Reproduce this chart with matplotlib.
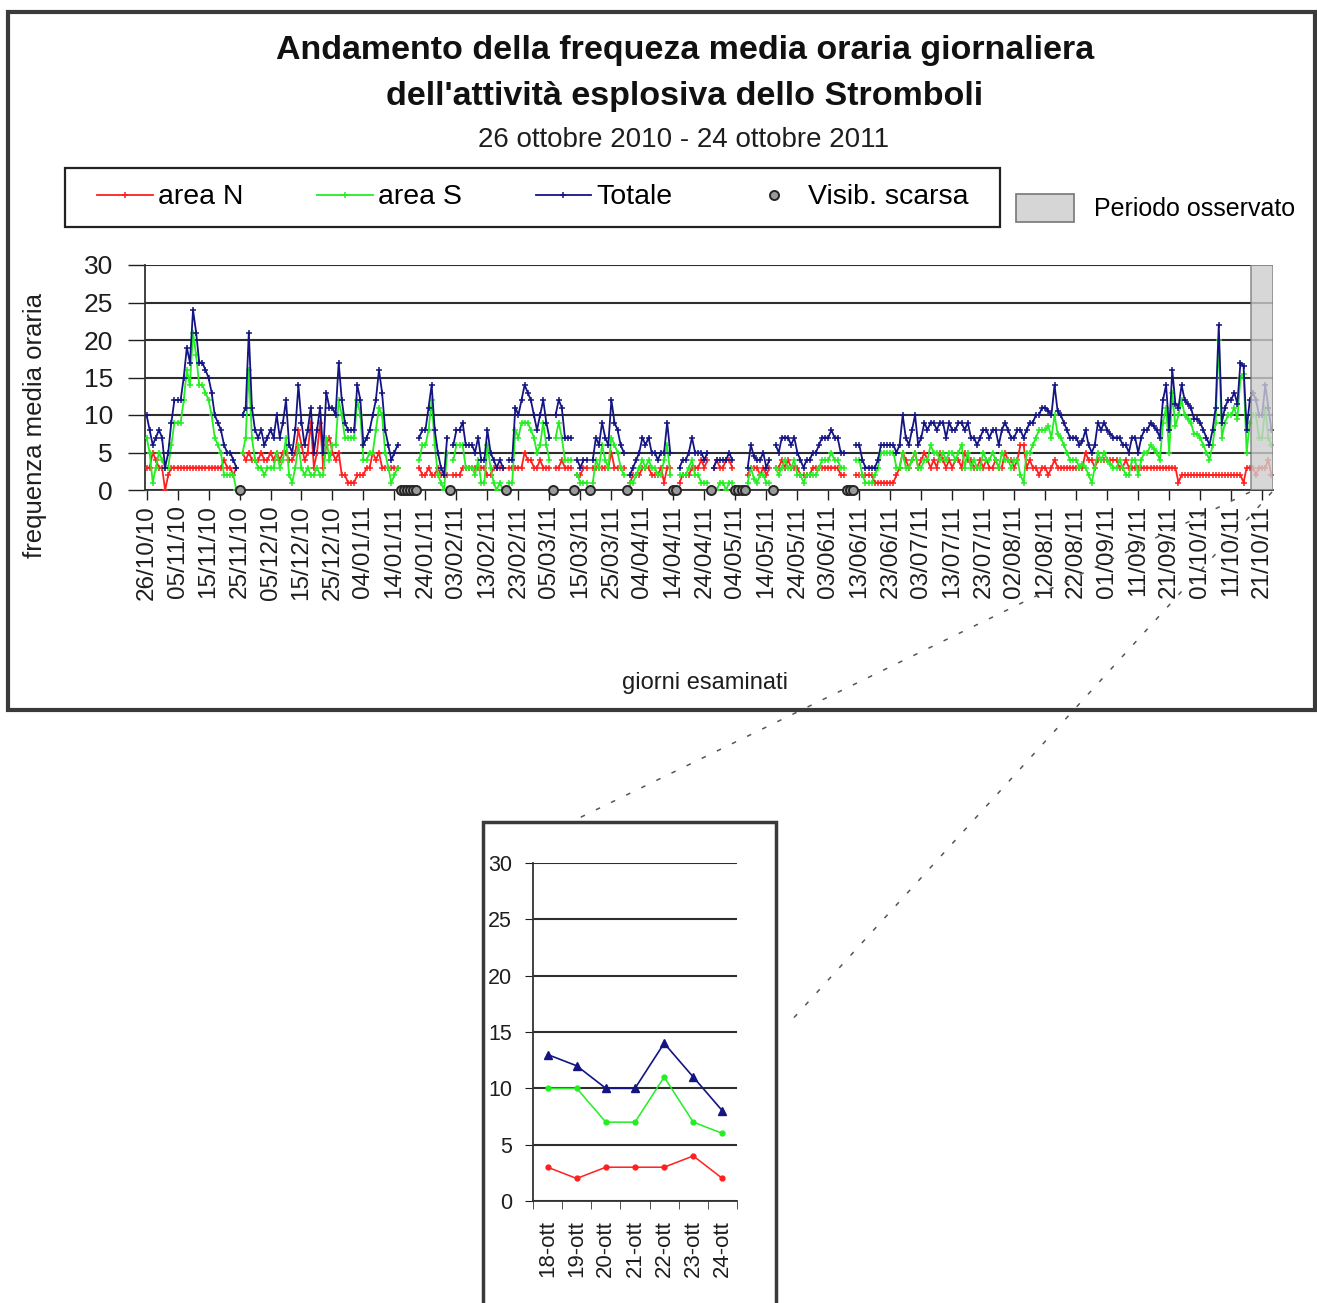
import numpy as np
import matplotlib
matplotlib.use("Agg")
import matplotlib.pyplot as plt
from matplotlib.lines import Line2D
from matplotlib.patches import Rectangle, Patch

plt.rcParams['font.family'] = ['Liberation Sans', 'DejaVu Sans']

nan = np.nan
W, H = 1317, 1303

# ---------------- data ----------------
tick_labels = ["26/10/10", "05/11/10", "15/11/10", "25/11/10", "05/12/10", "15/12/10",
               "25/12/10", "04/01/11", "14/01/11", "24/01/11", "03/02/11", "13/02/11",
               "23/02/11", "05/03/11", "15/03/11", "25/03/11", "04/04/11", "14/04/11",
               "24/04/11", "04/05/11", "14/05/11", "24/05/11", "03/06/11", "13/06/11",
               "23/06/11", "03/07/11", "13/07/11", "23/07/11", "02/08/11", "12/08/11",
               "22/08/11", "01/09/11", "11/09/11", "21/09/11", "01/10/11", "11/10/11",
               "21/10/11"]

totale = [
    10, 8, 6, 7, 8, 7, 3, 5, 9, 12,
    12, 12, 15, 19, 17, 24, 21, 17, 17, 16,
    15, 13, 10, 9, 8, 6, 5, 5, 4, 3,
    nan, 10, 11, 21, 11, 8, 7, 8, 6, 7,
    8, 7, 10, 7, 9, 12, 6, 5, 8, 14,
    9, 6, 8, 11, 5, 8, 11, 5, 13, 11,
    11, 10, 17, 12, 9, 8, 8, 8, 14, 12,
    6, 7, 8, 10, 12, 16, 13, 8, 6, 4,
    5, 6, nan, nan, nan, nan, nan, nan, 7, 8,
    8, 11, 14, 8, 5, 3, 2, 7, nan, 6,
    8, 8, 9, 6, 6, 6, 5, 7, 4, 4,
    8, 5, 4, 3, 4, 3, nan, 4, 4, 11,
    10, 12, 14, 13, 12, 10, 8, 10, 12, 9,
    7, nan, 10, 12, 11, 7, 7, 7, nan, 4,
    3, 4, 4, nan, 4, 7, 6, 9, 7, 6,
    12, 9, 8, 6, 5, nan, 2, 3, 4, 5,
    7, 6, 7, 5, 5, 4, 5, 5, 9, 5,
    nan, nan, 3, 4, 4, 5, 7, 5, 5, 5,
    4, 5, nan, 3, 4, 4, 4, 4, 5, 4,
    nan, nan, nan, nan, 3, 6, 4.5, 4, 4, 5,
    3, 4, nan, 6, 5, 7, 7, 7, 6, 7,
    5, 4, 3, 4, 4, 5, 5, 6, 7, 7,
    7, 8, 7, 7, 5, 5, nan, nan, nan, 6,
    6, 4, 3, 3, 3, 3, 4, 6, 6, 6,
    6, 6, 5, 6, 10, 7, 6, 8, 10, 6,
    7, 9, 8, 9, 9, 8, 9, 9, 7, 9,
    8, 8, 9, 9, 8, 9, 7, 7, 6, 7,
    8, 8, 7, 8, 8, 6, 8, 9, 8, 7,
    7, 8, 8, 7, 8, 9, 9, 10, 10, 11,
    11, 10.5, 10, 14, 10.5, 10, 9, 8, 7, 7,
    7, 6, 6.5, 8, 6, 5, 6, 9, 8, 9,
    8, 7.5, 7, 7, 7, 6, 6, 5, 7, 7,
    5, 7, 8, 8, 9, 8.5, 8, 7, 12, 14,
    8, 16, 11.5, 11, 14, 12, 11.5, 11, 9.5, 9.5,
    9, 8, 7, 6, 8, 11, 22, 9, 11, 12,
    12, 13, 11.5, 17, 16.5, 8, 12, 13, 12, 10,
    10, 14, 11, 8,
]

area_n = [
    3, 3, 5, 4, 3, 3, 0, 2, 3, 3,
    3, 3, 3, 3, 3, 3, 3, 3, 3, 3,
    3, 3, 3, 3, 3, 4, 3, 3, 2, 3,
    nan, 5, 4, 5, 4, 4, 4, 5, 4, 4,
    5, 4, 5, 4, 5, 5, 4, 4, 5, 8,
    6, 4, 5, 9, 3, 5, 9, 3, 6, 7,
    5, 4, 5, 2, 2, 1, 1, 1, 2, 2,
    2, 3, 3, 5, 4, 5, 3, 3, 3, 3,
    3, 3, nan, nan, nan, nan, nan, nan, 3, 2,
    2, 3, 2, 2, 3, 2, 2, 2, nan, 2,
    2, 2, 3, 3, 3, 3, 3, 3, 3, 3,
    2, 2, 3, 3, 3, 3, nan, 3, 3, 3,
    3, 3, 5, 4, 4, 3, 3, 4, 3, 3,
    3, nan, 3, 3, 4, 3, 3, 3, nan, 2,
    2, 3, 3, nan, 3, 3, 3, 3, 3, 3,
    5, 3, 3, 3, 3, nan, 1, 2, 2, 2,
    3, 3, 3, 2, 2, 2, 3, 1, 3, 3,
    nan, nan, 1, 2, 2, 2, 3, 3, 3, 4,
    3, 4, nan, 3, 4, 3, 3, 4, 4, 3,
    nan, nan, nan, nan, 2, 3, 3, 3, 2, 3,
    2, 3, nan, 3, 3, 4, 3, 4, 3, 3,
    3, 2, 2, 2, 2, 3, 3, 3, 3, 3,
    3, 3, 3, 3, 2, 2, nan, nan, nan, 2,
    2, 2, 2, 2, 2, 1, 1, 1, 1, 1,
    1, 1, 2, 3, 5, 4, 3, 4, 5, 3,
    4, 5, 4, 3, 4, 3, 5, 4, 3, 4,
    3, 4, 4, 3, 5, 4, 4, 3, 3, 4,
    3, 4, 3, 3, 4, 3, 3, 5, 4, 4,
    3, 4, 6, 6, 3, 4, 3, 3, 2, 3,
    3, 2, 3, 4, 3, 3, 3, 3, 3, 3,
    3, 3, 3, 5, 4, 4, 3, 4, 4, 4,
    4, 4, 4, 4, 3, 3, 4, 3, 3, 3,
    3, 3, 3, 3, 3, 3, 3, 3, 3, 3,
    3, 3, 3, 1, 2, 2, 2, 2, 2, 2,
    2, 2, 2, 2, 2, 2, 2, 2, 2, 2,
    2, 2, 2, 2, 1, 3, 3, 3, 2, 3,
    3, 3, 4, 2,
]

area_s = [
    7, 5, 1, 3, 5, 4, 3, 3, 6, 9,
    9, 9, 12, 16, 14, 21, 18, 14, 14, 13,
    12, 10, 7, 6, 5, 2, 2, 2, 2, 0,
    nan, 5, 7, 16, 7, 4, 3, 3, 2, 3,
    3, 3, 5, 3, 4, 7, 2, 1, 3, 6,
    3, 2, 3, 2, 2, 3, 2, 2, 7, 4,
    6, 6, 12, 10, 7, 7, 7, 7, 12, 10,
    4, 4, 5, 5, 8, 11, 10, 5, 3, 1,
    2, 3, nan, nan, nan, nan, nan, nan, 4, 6,
    6, 8, 12, 6, 2, 1, 0, 5, nan, 4,
    6, 6, 6, 3, 3, 3, 2, 4, 1, 1,
    6, 3, 1, 0, 1, 0, nan, 1, 1, 8,
    7, 9, 9, 9, 8, 7, 5, 6, 9, 6,
    4, nan, 7, 9, 7, 4, 4, 4, nan, 2,
    1, 1, 1, nan, 1, 4, 3, 6, 4, 3,
    7, 6, 5, 3, 2, nan, 1, 1, 2, 3,
    4, 3, 4, 3, 3, 2, 2, 4, 6, 2,
    nan, nan, 2, 2, 2, 3, 4, 2, 2, 1,
    1, 1, nan, 0, 0, 1, 1, 0, 1, 1,
    nan, nan, nan, nan, 1, 3, 1.5, 1, 2, 2,
    1, 1, nan, 3, 2, 3, 4, 3, 3, 4,
    2, 2, 1, 2, 2, 2, 2, 3, 4, 4,
    4, 5, 4, 4, 3, 3, nan, nan, nan, 4,
    4, 2, 1, 1, 1, 2, 3, 5, 5, 5,
    5, 5, 3, 3, 5, 3, 3, 4, 5, 3,
    3, 4, 4, 6, 5, 5, 4, 5, 4, 5,
    5, 4, 5, 6, 3, 5, 3, 4, 3, 3,
    5, 4, 4, 5, 4, 3, 5, 4, 4, 3,
    4, 4, 2, 1, 5, 5, 6, 7, 8, 8,
    8, 8.5, 7, 10, 7.5, 7, 6, 5, 4, 4,
    4, 3, 3.5, 3, 2, 1, 3, 5, 4, 5,
    4, 3.5, 3, 3, 4, 3, 2, 2, 4, 4,
    2, 4, 5, 5, 6, 5.5, 5, 4, 9, 11,
    5, 13, 8.5, 10, 12, 10, 9.5, 9, 7.5, 7.5,
    7, 6, 5, 4, 6, 9, 20, 7, 9, 10,
    10, 11, 9.5, 15, 15.5, 5, 9, 10, 10, 7,
    7, 11, 7, 6,
]

visib_days = [30, 82, 83, 84, 85, 86, 87, 98, 116, 131, 138, 143, 155,
              170, 171, 182, 190, 191, 192, 193, 202, 226, 227, 228]
visib_vals = [0] * len(visib_days)

observed_start, observed_end = 357, 363

inset_labels = ["18-ott", "19-ott", "20-ott", "21-ott", "22-ott", "23-ott", "24-ott"]
inset_n = [3, 2, 3, 3, 3, 4, 2]
inset_s = [10, 10, 7, 7, 11, 7, 6]
inset_totale = [13, 12, 10, 10, 14, 11, 8]

# ---------------- styles ----------------
RED = '#ff1f1f'
GREEN = '#22ee22'
BLUE = '#141483'
GRID = '#2e2e2e'
TXT = '#1e1e1e'

fig = plt.figure(figsize=(W / 100, H / 100), dpi=100)

# ---------------- main chart ----------------
ax = fig.add_axes([145 / W, 1 - 490 / H, (1273 - 145) / W, (490 - 265) / H])
days = np.arange(len(totale))
lnN, = ax.plot(days, area_n, color=RED, lw=1.3, marker='+', ms=5, mew=1.1, zorder=3)
lnS, = ax.plot(days, area_s, color=GREEN, lw=1.3, marker='+', ms=5, mew=1.1, zorder=3)
lnT, = ax.plot(days, totale, color=BLUE, lw=1.3, marker='+', ms=5, mew=1.1, zorder=3)
vis, = ax.plot(visib_days, visib_vals, ls='none', marker='o', ms=6.5, mfc='#9a9a9a',
               mec='#262626', mew=1.4, zorder=6, clip_on=False)

ax.axvspan(observed_start - 0.5, observed_end + 0.5, facecolor='#cdcdcd', alpha=0.8,
           edgecolor='#7a7a7a', lw=1.2, zorder=4)

ax.set_xlim(-0.5, len(totale) - 0.5)
ax.set_ylim(0, 30)
ax.set_yticks(range(0, 31, 5))
ax.yaxis.grid(True, color=GRID, lw=1.5)
ax.set_axisbelow(True)
ax.set_xticks(np.arange(0, len(totale), 10))
ax.set_xticklabels(tick_labels, rotation=90, fontsize=17.5)
ax.tick_params(axis='x', direction='out', length=7, width=1, pad=4, colors=TXT)
ax.tick_params(axis='y', direction='out', length=12, width=1, pad=11, labelsize=19,
               colors=TXT)
for s in ['top', 'right']:
    ax.spines[s].set_visible(False)
for s in ['left', 'bottom']:
    ax.spines[s].set_color('#333')
    ax.spines[s].set_linewidth(1.3)

fig.text(35 / W, 1 - 425 / H, 'frequenza media oraria', rotation=90, ha='center',
         va='center', fontsize=18.5, color=TXT)
fig.text(705 / W, 1 - 683 / H, 'giorni esaminati', ha='center', va='center',
         fontsize=17, color=TXT)

fig.text(685 / W, 1 - 50 / H, 'Andamento della frequeza media oraria giornaliera',
         ha='center', va='center', fontsize=24.5, fontweight='bold', color='#111')
fig.text(685 / W, 1 - 97 / H, "dell'attività esplosiva dello Stromboli",
         ha='center', va='center', fontsize=24.5, fontweight='bold', color='#111')
fig.text(684 / W, 1 - 140 / H, '26 ottobre 2010 - 24 ottobre 2011',
         ha='center', va='center', fontsize=20, color=TXT)

# legend: content spread between x=97 and x=968, frame drawn from 65 to 1000
leg = fig.legend([lnN, lnS, lnT, vis], ['area N', 'area S', 'Totale', 'Visib. scarsa'],
                 loc='center', bbox_to_anchor=(97 / W, 1 - 227 / H, (968 - 97) / W, 59 / H),
                 mode='expand', ncol=4, frameon=False, fontsize=20.5,
                 handlelength=1.95, handletextpad=0.2, borderaxespad=0, borderpad=0)
fig.add_artist(Rectangle((65 / W, 1 - 227 / H), (1000 - 65) / W, (227 - 168) / H,
                         transform=fig.transFigure, fill=False, lw=1.6, ec='#222'))

leg2 = fig.legend([Patch(facecolor='#d6d6d6', edgecolor='#777777', lw=1.2)],
                  ['Periodo osservato'], loc='center left',
                  bbox_to_anchor=(1016 / W, 1 - 208 / H), frameon=False, fontsize=18,
                  handlelength=2.3, handleheight=1.4, handletextpad=0.8, borderpad=0,
                  borderaxespad=0)

# ---------------- inset chart ----------------
ax2 = fig.add_axes([533 / W, 1 - 1201 / H, (737 - 533) / W, (1201 - 863) / H])
xi = np.arange(len(inset_labels))
ax2.plot(xi, inset_n, color=RED, lw=1.1, marker='o', ms=3.5, zorder=3)
ax2.plot(xi, inset_s, color=GREEN, lw=1.1, marker='o', ms=3.5, zorder=3)
ax2.plot(xi, inset_totale, color=BLUE, lw=1.2, marker='^', ms=6, zorder=3)
ax2.set_xlim(-0.5, len(inset_labels) - 0.5)
ax2.set_ylim(0, 30)
ax2.set_yticks(range(0, 31, 5))
ax2.yaxis.grid(True, color=GRID, lw=1.5)
ax2.set_axisbelow(True)
ax2.set_xticks(xi)
ax2.set_xticklabels(inset_labels, rotation=90, fontsize=16)
ax2.set_xticks(np.arange(-0.5, len(inset_labels), 1.0), minor=True)
ax2.tick_params(axis='x', which='major', length=0, pad=14, colors=TXT)
ax2.tick_params(axis='x', which='minor', length=6, direction='out', color='#333')
ax2.tick_params(axis='y', direction='out', length=6, pad=9, labelsize=15.5, colors=TXT)
for s in ['top', 'right']:
    ax2.spines[s].set_visible(False)
for s in ['left', 'bottom']:
    ax2.spines[s].set_color('#333')
    ax2.spines[s].set_linewidth(1.3)

# ---------------- frames and connectors ----------------
fig.add_artist(Rectangle((8 / W, 1 - 710 / H), (1315 - 8) / W, (710 - 12) / H,
                         transform=fig.transFigure, fill=False, lw=3, ec='#3a3a3a'))
fig.add_artist(Rectangle((483 / W, 1 - 1315 / H), (776 - 483) / W, (1315 - 822) / H,
                         transform=fig.transFigure, fill=False, lw=2.5, ec='#3a3a3a',
                         clip_on=False))
fig.add_artist(Line2D([1250 / W, 575 / W], [1 - 492 / H, 1 - 820 / H],
                      transform=fig.transFigure, color='#555', lw=1.1,
                      linestyle=(0, (3, 8))))
fig.add_artist(Line2D([1272 / W, 790 / W], [1 - 492 / H, 1 - 1022 / H],
                      transform=fig.transFigure, color='#555', lw=1.1,
                      linestyle=(0, (3, 8))))

fig.savefig('out.png', dpi=100)
